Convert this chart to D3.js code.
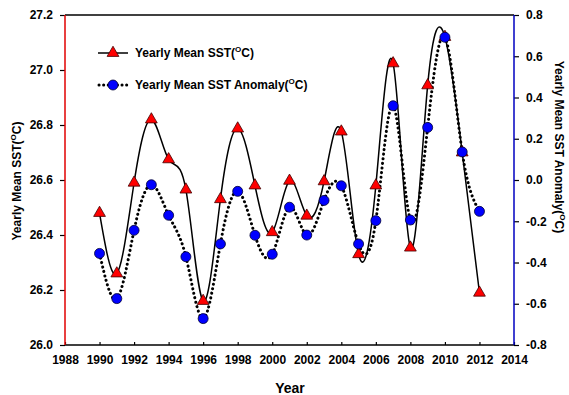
<!DOCTYPE html>
<html><head><meta charset="utf-8">
<script src="https://cdn.jsdelivr.net/npm/d3@7"></script>
<style>body{margin:0;background:#fff}svg{display:block}text{font-family:"Liberation Sans",Arial,sans-serif}</style>
</head><body><svg id="c" width="569" height="395"></svg>
<script>
const years = [1990,1991,1992,1993,1994,1995,1996,1997,1998,1999,2000,2001,2002,2003,2004,2005,2006,2007,2008,2009,2010,2011,2012];
const sst = [26.48,26.26,26.59,26.82,26.675,26.565,26.16,26.53,26.787,26.58,26.41,26.597,26.47,26.595,26.776,26.33,26.58,27.024,26.354,26.944,27.12,26.70,26.19];
const anomaly = [-0.356,-0.575,-0.244,-0.023,-0.171,-0.372,-0.672,-0.31,-0.055,-0.268,-0.36,-0.132,-0.267,-0.099,-0.028,-0.31,-0.197,0.36,-0.194,0.255,0.692,0.136,-0.152];
const xTicks = d3.range(1988, 2015, 2);
const yLeftTicks = [26.0,26.2,26.4,26.6,26.8,27.0,27.2];
const yRightTicks = [-0.8,-0.6,-0.4,-0.2,0.0,0.2,0.4,0.6,0.8];
const legendLabels = ["Yearly Mean SST(", "Yearly Mean SST Anomaly("];

const svg = d3.select("#c");
const L = 65, R = 514, T = 15, B = 345;
const x = d3.scaleLinear().domain([1988, 2014]).range([L, R]);
const yL = d3.scaleLinear().domain([26.0, 27.2]).range([B, T]);
const yR = d3.scaleLinear().domain([-0.8, 0.8]).range([B, T]);

// axes
const gx = svg.append("g").attr("transform", `translate(0,${B})`)
  .call(d3.axisBottom(x).tickValues(xTicks).tickFormat(d3.format("d")).tickSizeInner(-3).tickSizeOuter(0).tickPadding(10));
const gl = svg.append("g").attr("transform", `translate(${L},0)`)
  .call(d3.axisLeft(yL).tickValues(yLeftTicks).tickFormat(d3.format(".1f")).tickSizeInner(5).tickSizeOuter(0).tickPadding(7));
const gr = svg.append("g").attr("transform", `translate(${R},0)`)
  .call(d3.axisRight(yR).tickValues(yRightTicks).tickFormat(d3.format(".1f")).tickSizeInner(5).tickSizeOuter(0).tickPadding(7));
[gx, gl, gr].forEach(g => {
  g.selectAll("text").attr("font-size", 12).attr("font-weight", "bold").attr("fill", "#000");
  g.selectAll(".tick line").attr("stroke", "#000").attr("stroke-width", 1.2);
  g.select(".domain").remove();
});
gr.selectAll(".tick text").text(d => d3.format(".1f")(d).replace("−", "-"));
// spines
svg.append("line").attr("x1", L).attr("x2", R).attr("y1", T).attr("y2", T).attr("stroke", "#000").attr("stroke-width", 1.5);
svg.append("line").attr("x1", L).attr("x2", R).attr("y1", B).attr("y2", B).attr("stroke", "#000").attr("stroke-width", 1.5);
svg.append("line").attr("x1", L).attr("x2", L).attr("y1", T).attr("y2", B).attr("stroke", "#e00000").attr("stroke-width", 1.5);
svg.append("line").attr("x1", R).attr("x2", R).attr("y1", T).attr("y2", B).attr("stroke", "#0000c0").attr("stroke-width", 1.5);

// titles
function degTitle(sel, base) {
  sel.append("tspan").text(base);
  sel.append("tspan").text("O").attr("font-size", 8).attr("dy", -5);
  sel.append("tspan").text("C)").attr("dy", 5);
}
const tl = svg.append("text").attr("transform", `translate(21,181) rotate(-90)`).attr("text-anchor", "middle")
  .attr("font-size", 12).attr("font-weight", "bold");
degTitle(tl, "Yearly Mean SST(");
const tr = svg.append("text").attr("transform", `translate(555,147) rotate(90)`).attr("text-anchor", "middle")
  .attr("font-size", 12).attr("font-weight", "bold");
degTitle(tr, "Yearly Mean SST Anomaly(");
svg.append("text").attr("x", 290).attr("y", 393).attr("text-anchor", "middle").attr("font-size", 14).attr("font-weight", "bold").text("Year");

// lines
const lineL = d3.line().x((d, i) => x(years[i])).y(d => yL(d)).curve(d3.curveNatural);
const lineR = d3.line().x((d, i) => x(years[i])).y(d => yR(d)).curve(d3.curveNatural);
svg.append("path").attr("d", lineL(sst)).attr("fill", "none").attr("stroke", "#000").attr("stroke-width", 1.5);
svg.append("path").attr("d", lineR(anomaly)).attr("fill", "none").attr("stroke", "#000").attr("stroke-width", 3)
  .attr("stroke-dasharray", "0.1,4.5").attr("stroke-linecap", "round");

const tri = d3.symbol().type(d3.symbolTriangle).size(60);
svg.append("g").selectAll("path").data(sst).join("path")
  .attr("transform", (d, i) => `translate(${x(years[i])},${yL(d)})`)
  .attr("d", tri).attr("fill", "#ff0000").attr("stroke", "#400000").attr("stroke-width", 0.8);
svg.append("g").selectAll("circle").data(anomaly).join("circle")
  .attr("cx", (d, i) => x(years[i])).attr("cy", d => yR(d)).attr("r", 5)
  .attr("fill", "#0000ff").attr("stroke", "#000030").attr("stroke-width", 0.8);

// legend
const lg = svg.append("g");
lg.append("line").attr("x1", 98).attr("x2", 128).attr("y1", 53).attr("y2", 53).attr("stroke", "#000").attr("stroke-width", 1.5);
lg.append("path").attr("transform", "translate(113,53)").attr("d", tri).attr("fill", "#ff0000").attr("stroke", "#400000").attr("stroke-width", 0.8);
lg.append("line").attr("x1", 99).attr("x2", 128).attr("y1", 85).attr("y2", 85).attr("stroke", "#000").attr("stroke-width", 3)
  .attr("stroke-dasharray", "0.1,4.5").attr("stroke-linecap", "round");
lg.append("circle").attr("cx", 113).attr("cy", 85).attr("r", 5).attr("fill", "#0000ff").attr("stroke", "#000030").attr("stroke-width", 0.8);
legendLabels.forEach((lab, i) => {
  const t = lg.append("text").attr("x", 135).attr("y", 57 + i * 32).attr("font-size", 12).attr("font-weight", "bold");
  degTitle(t, lab);
});
</script></body></html>
